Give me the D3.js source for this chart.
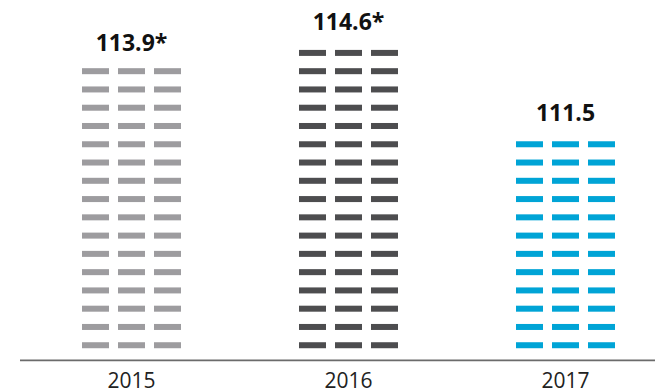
<!DOCTYPE html>
<html>
<head>
<meta charset="utf-8">
<script src="https://cdn.jsdelivr.net/npm/d3@7"></script>
<style>
  html, body { margin: 0; padding: 0; background: #fff; }
  svg { display: block; }
</style>
</head>
<body>
<svg id="chart" width="655" height="389"></svg>
<script>
const years = ["2015", "2016", "2017"];
const values = [113.9, 114.6, 111.5];
const valueLabels = ["113.9*", "114.6*", "111.5"];
const barColors = ["#9d9c9f", "#4d4d4f", "#00a4d6"];

const W = 655, H = 389;
const svg = d3.select("#chart");

const x = d3.scaleBand().domain(years).range([23, 674]).padding(0);
const y = d3.scaleLinear().domain([104, 114.6]).range([360.5, 50]);

const pitch = 18.27, dashH = 6, dashW = 27, dashGap = 9, cols = 3;
const barW = cols * dashW + (cols - 1) * dashGap;

years.forEach((yr, k) => {
  const cx = x(yr) + x.bandwidth() / 2;
  const left = cx - barW / 2;
  const base = y(y.domain()[0]);
  const n = Math.round((base - y(values[k])) / pitch);
  const g = svg.append("g");
  const cells = [];
  for (let i = 0; i < n; i++) for (let c = 0; c < cols; c++) cells.push({ i, c });
  g.selectAll("rect").data(cells).join("rect")
    .attr("x", d => left + d.c * (dashW + dashGap))
    .attr("y", d => base - (d.i + 1) * pitch)
    .attr("width", dashW)
    .attr("height", dashH)
    .attr("fill", barColors[k]);
  svg.append("text")
    .attr("x", cx)
    .attr("y", y(values[k]) - 20)
    .attr("text-anchor", "middle")
    .attr("font-family", "'Open Sans', sans-serif")
    .attr("font-weight", "bold")
    .attr("font-size", 23)
    .attr("fill", "#111")
    .text(valueLabels[k]);
});

svg.append("line")
  .attr("x1", 20).attr("x2", W)
  .attr("y1", 360.3).attr("y2", 360.3)
  .attr("stroke", "#6b6b6b").attr("stroke-width", 1.8);

const axis = d3.axisBottom(x).tickSize(0).tickPadding(0);
const ax = svg.append("g").attr("transform", "translate(0,372)").call(axis);
ax.select(".domain").remove();
ax.selectAll("text")
  .attr("dy", null).attr("y", 16)
  .attr("font-family", "'Open Sans', sans-serif")
  .attr("font-size", 21)
  .attr("fill", "#222");
</script>
</body>
</html>
